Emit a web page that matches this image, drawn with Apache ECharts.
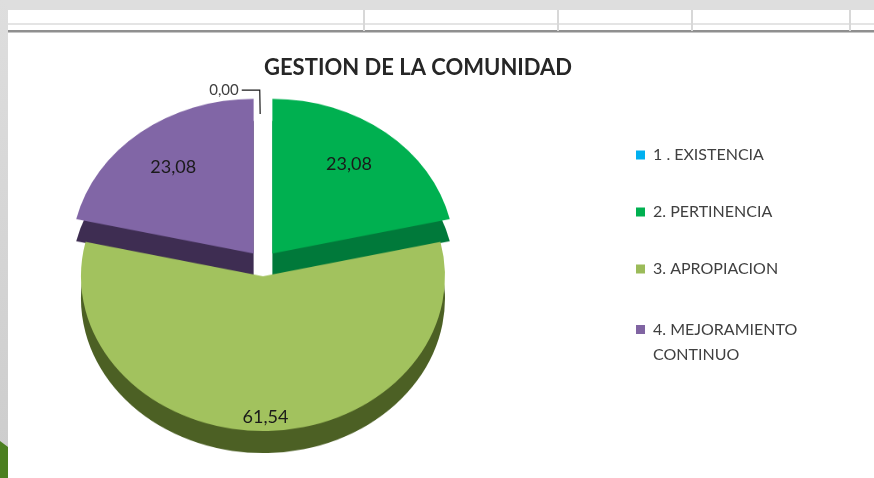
<!DOCTYPE html>
<html>
<head>
<meta charset="utf-8">
<script src="https://cdn.jsdelivr.net/npm/echarts@6/dist/echarts.min.js"></script>
<style>
  html, body { margin: 0; padding: 0; background: #ffffff; }
  #wrap { position: relative; width: 874px; height: 478px; overflow: hidden; background: #fff; }
  #pieA { position: absolute; left: 0; top: 0; width: 874px; height: 562px; transform: scaleY(0.85); transform-origin: 0 0; }
  #chartB { position: absolute; left: 0; top: 0; width: 874px; height: 478px; }
</style>
</head>
<body>
<div id="wrap">
  <div id="pieA"></div>
  <div id="chartB"></div>
</div>
<script>
// ---- data ----
const categories = ['1 . EXISTENCIA', '2. PERTINENCIA', '3. APROPIACION', '4. MEJORAMIENTO CONTINUO'];
const values = [0.00, 23.08, 61.54, 23.08];
const chartTitle = 'GESTION DE LA COMUNIDAD';

// ---- styles ----
const topColors = ['#00b0f0', '#00b050', '#a2c25e', '#8166a6'];
const sideColors = ['#007fad', '#00793a', '#4c6024', '#3e2d52'];
const legendColors = ['#00b0f0', '#00b050', '#9bbb59', '#8064a2'];
const fmt = v => Number(v).toFixed(2).replace('.', ',');

// ---- chart A: 3D-ish pie (top face + side), squashed vertically by CSS ----
const pieA = echarts.init(document.getElementById('pieA'), null, { renderer: 'canvas' });
function pieLayer(center, colors, z) {
  return {
    type: 'pie',
    z: z,
    center: center,
    radius: 182,
    startAngle: 90,
    clockwise: true,
    selectedMode: 'multiple',
    selectedOffset: 15,
    avoidLabelOverlap: false,
    silent: true,
    animation: false,
    label: { show: false },
    labelLine: { show: false },
    emphasis: { disabled: true },
    itemStyle: { borderWidth: 0 },
    data: categories.map((n, i) => ({
      name: n,
      value: values[i],
      selected: i > 0,
      itemStyle: { color: colors[i], borderWidth: 0 }
    }))
  };
}
pieA.setOption({
  animation: false,
  series: [
    pieLayer([263, 336], sideColors, 1),
    pieLayer([263, 310], topColors, 2)
  ]
});

// ---- chart B: frame, title, legend, data labels ----
const chartB = echarts.init(document.getElementById('chartB'), null, { renderer: 'canvas' });
const legendTextBase = { fontFamily: 'Lato', fontSize: 16, color: '#404040' };
chartB.setOption({
  animation: false,
  backgroundColor: 'transparent',
  title: {
    text: chartTitle,
    left: 264,
    top: 57,
    padding: 0,
    textStyle: { fontFamily: 'Lato', fontWeight: 'bold', fontSize: 22, color: '#262626' }
  },
  legend: [
    {
      orient: 'vertical',
      left: 636,
      top: 145,
      padding: 0,
      itemWidth: 9,
      itemHeight: 9,
      itemGap: 37,
      icon: 'rect',
      selectedMode: false,
      textStyle: Object.assign({ lineHeight: 20, padding: [0, 0, 0, 3] }, legendTextBase),
      data: categories.slice(0, 3).map((n, i) => ({ name: n, itemStyle: { color: legendColors[i] } }))
    },
    {
      orient: 'vertical',
      left: 636,
      top: 292,
      padding: 0,
      itemWidth: 9,
      itemHeight: 9,
      icon: 'rect',
      selectedMode: false,
      formatter: n => ' \n' + n.replace(/ (?=CONTINUO)/, '\n'),
      textStyle: Object.assign({ lineHeight: 25, padding: [0, 0, 0, 3] }, legendTextBase),
      data: categories.slice(3).map((n, i) => ({ name: n, itemStyle: { color: legendColors[3 + i] } }))
    }
  ],
  graphic: [
    { type: 'rect', silent: true, z: -1, shape: { x: 0, y: 0, width: 874, height: 10 }, style: { fill: '#dedede' } },
    { type: 'rect', silent: true, z: -1, shape: { x: 0, y: 0, width: 8, height: 478 },
      style: { fill: new echarts.graphic.LinearGradient(0, 0, 0, 1, [{ offset: 0, color: '#dedede' }, { offset: 1, color: '#cccccc' }]) } },
    { type: 'rect', silent: true, z: -1, shape: { x: 8, y: 23, width: 866, height: 2 }, style: { fill: '#e4e4e4' } },
    { type: 'rect', silent: true, z: -1, shape: { x: 8, y: 30, width: 866, height: 2 }, style: { fill: '#8f8f8f' } },
    { type: 'rect', silent: true, z: -1, shape: { x: 8, y: 32, width: 866, height: 1 }, style: { fill: '#c6c6c6' } },
    { type: 'rect', silent: true, z: -1, shape: { x: 363, y: 10, width: 2, height: 21 }, style: { fill: '#d8d8d8' } },
    { type: 'rect', silent: true, z: -1, shape: { x: 557, y: 10, width: 2, height: 21 }, style: { fill: '#d8d8d8' } },
    { type: 'rect', silent: true, z: -1, shape: { x: 691, y: 10, width: 2, height: 21 }, style: { fill: '#d8d8d8' } },
    { type: 'rect', silent: true, z: -1, shape: { x: 849, y: 10, width: 2, height: 21 }, style: { fill: '#d8d8d8' } },
    { type: 'polygon', silent: true, z: -1, shape: { points: [[0, 441], [8, 447], [8, 478], [0, 478]] }, style: { fill: '#4b7f20' } }
  ],
  series: [
    {
      type: 'pie',
      name: 'labels',
      center: [263, 276],
      radius: [114, 162],
      startAngle: 91,
      clockwise: true,
      avoidLabelOverlap: false,
      silent: true,
      animation: false,
      itemStyle: { color: 'transparent', borderWidth: 0 },
      emphasis: { disabled: true },
      label: {
        show: true,
        position: 'inside',
        formatter: p => fmt(p.value),
        fontFamily: 'Lato',
        fontSize: 18,
        color: '#1a1a1a'
      },
      labelLine: { show: false },
      data: categories.map((n, i) => {
        const item = { name: n, value: values[i] };
        if (values[i] === 0) {
          item.label = { position: 'outside', fontSize: 15, color: '#404040', distanceToLabelLine: 3 };
          item.labelLine = { show: true, length: 24, length2: 18, smooth: false, lineStyle: { color: '#1a1a1a', width: 1.2 } };
        }
        return item;
      })
    }
  ]
});
</script>
</body>
</html>
